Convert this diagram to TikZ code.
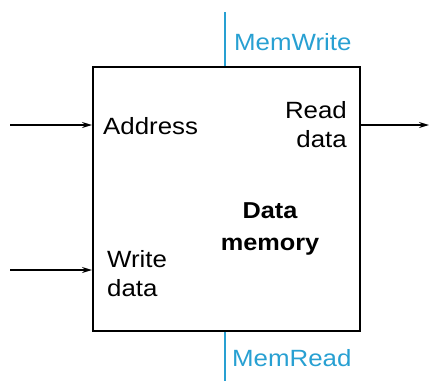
\documentclass[tikz,border=0pt]{standalone}
\usepackage{fontspec}
\setmainfont[FakeStretch=1.1]{Liberation Sans}
\usetikzlibrary{arrows.meta}
\definecolor{ctrlblue}{RGB}{40,160,210}
\begin{document}
\begin{tikzpicture}[x=1pt,y=-1pt,
  lbl/.style={font=\fontsize{23.5}{29}\selectfont, inner sep=0pt},
  blbl/.style={font=\fontsize{23}{32}\selectfont\bfseries, inner sep=0pt, align=center},
  ctrl/.style={ctrlblue, line width=1.6pt},
  sig/.style={line width=1.3pt, -{Stealth[length=10pt,width=6pt]}}]
\useasboundingbox (0,0) rectangle (433,381);
\node[draw, line width=1.8pt, minimum width=267pt, minimum height=264pt, inner sep=0pt, anchor=north west] (mem) at (92,66) {};
\coordinate (inA) at (10,125);
\coordinate (inW) at (10,270);
\coordinate (outR) at (429,125);
\coordinate (wtop) at (225,12);
\coordinate (rbot) at (225,381);
\draw[sig] (inA) -- (inA -| mem.west);
\draw[sig] (inW) -- (inW -| mem.west);
\draw[sig] (outR -| mem.east) -- (outR);
\draw[ctrl] (wtop) -- (wtop |- mem.north);
\draw[ctrl] (rbot |- mem.south) -- (rbot);
\node[lbl, anchor=west] (addr) at (103,126) {Address};
\node[lbl, anchor=east, align=right] (rd) at (347,125) {Read\\data};
\node[lbl, anchor=west, align=left] (wd) at (107,274) {Write\\data};
\node[blbl] (dm) at (270,229) {Data\\memory};
\node[lbl, anchor=west, ctrlblue] (mw) at (234,42) {MemWrite};
\node[lbl, anchor=west, ctrlblue] (mr) at (232,358) {MemRead};
\end{tikzpicture}
\end{document}
